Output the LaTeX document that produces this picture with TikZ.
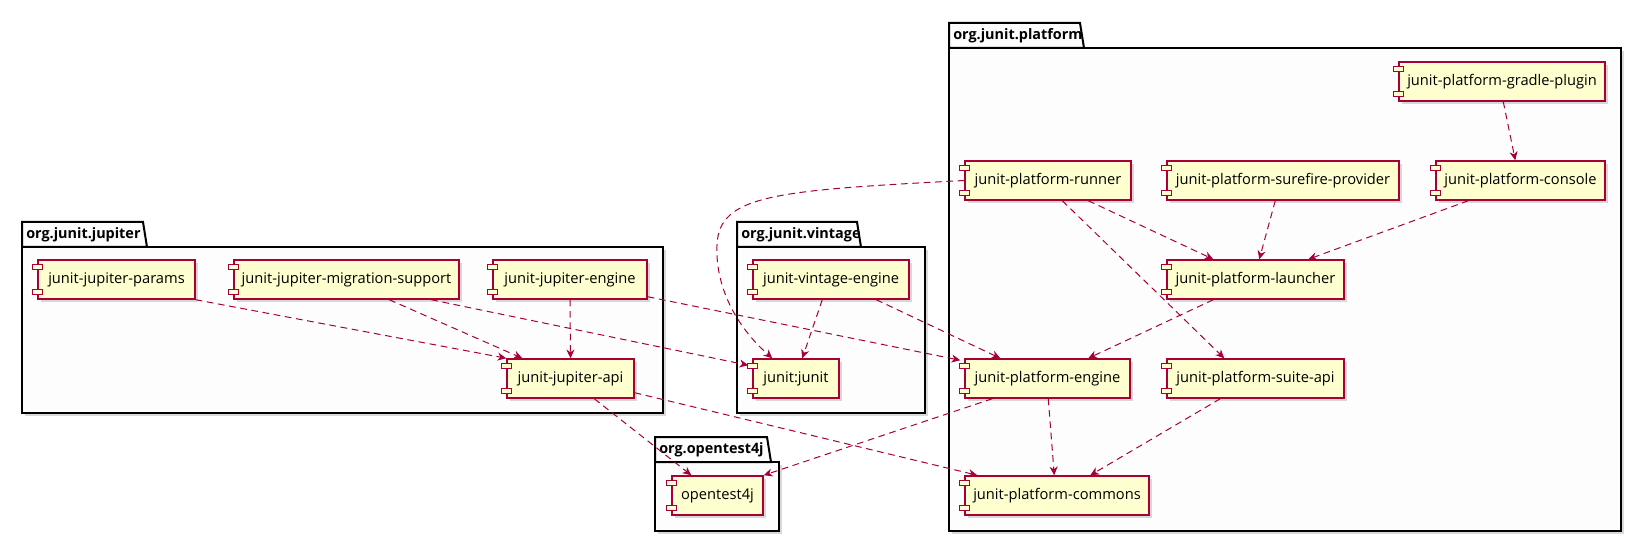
\documentclass[tikz,border=0pt]{standalone}
\usepackage{fontspec}
\setmainfont{Open Sans}
\usepackage{tikz}
\usetikzlibrary{calc,positioning,arrows.meta,shadows}

\definecolor{umlred}{HTML}{A80036}
\definecolor{umlfill}{HTML}{FEFECE}
\definecolor{pkgfill}{HTML}{FDFDFD}

\tikzset{
  comp/.style={draw=umlred, fill=umlfill, line width=1.1pt, minimum height=29.25pt, inner sep=0pt,
    font=\fontsize{11}{13}\selectfont,
    drop shadow={opacity=0.3, shadow xshift=2.5pt, shadow yshift=-2.5pt}},
  comptab/.style={draw=umlred, fill=umlfill, line width=1.1pt},
  pkg/.style={draw=black, fill=pkgfill, line width=1.5pt,
    drop shadow={opacity=0.3, shadow xshift=2.5pt, shadow yshift=-2.5pt}},
  pkgtab/.style={draw=black, fill=pkgfill, line width=1.5pt, line join=miter},
  pkglabel/.style={anchor=west, inner sep=0pt, font=\bfseries\fontsize{10.8}{12}\selectfont},
  dep/.style={draw=umlred, line width=0.75pt, dash pattern=on 5pt off 3.5pt,
    -{Stealth[length=6.5pt,width=6pt,inset=2pt]}}
}

% name, x, y (centre), width, text
\newcommand{\umlcomp}[5]{%
  \node[comp, minimum width=#4*0.75pt] (#1) at (#2,#3) {#5};
  \draw[comptab] ($(#1.north west)+(-5,5)$) rectangle ++(10,5);
  \draw[comptab] ($(#1.south west)+(-5,-10)$) rectangle ++(10,5);
}
% name, x1, y1, x2, y2 (body), tab width, label
\newcommand{\umlpkg}[7]{%
  \draw[pkg] (#2,#3) rectangle (#4,#5);
  \draw[pkgtab] (#2,#3) -- (#2,#3-25) -- (#2+#6,#3-25) -- (#2+#6+4,#3) -- cycle;
  \node[pkglabel] (#1) at (#2+4,#3-12.5) {#7};
}

\begin{document}
\begin{tikzpicture}[x=0.75pt, y=-0.75pt]
  \useasboundingbox (0,0) rectangle (1628,538);

  % packages
  \umlpkg{jupiter}{22}{247}{663}{413}{121}{org.junit.jupiter}
  \umlpkg{vintage}{737}{247}{925}{413}{120}{org.junit.vintage}
  \umlpkg{opentest}{655}{462}{779}{531}{112}{org.opentest4j}
  \umlpkg{platform}{949}{48}{1621}{531}{131}{org.junit.platform}

  % org.junit.jupiter
  \umlcomp{params}{116.5}{279.5}{157}{junit-jupiter-params}
  \umlcomp{migration}{346.5}{279.5}{225}{junit-jupiter-migration-support}
  \umlcomp{jengine}{570}{279.5}{154}{junit-jupiter-engine}
  \umlcomp{japi}{570.5}{378.5}{127}{junit-jupiter-api}

  % org.junit.vintage
  \umlcomp{vengine}{831}{279.5}{156}{junit-vintage-engine}
  \umlcomp{junit}{796}{378.5}{86}{junit:junit}

  % org.opentest4j
  \umlcomp{ot4j}{717.5}{495.5}{91}{opentest4j}

  % org.junit.platform
  \umlcomp{gradle}{1502}{81.5}{206}{junit-platform-gradle-plugin}
  \umlcomp{runner}{1048}{180.5}{166}{junit-platform-runner}
  \umlcomp{surefire}{1283}{180.5}{232}{junit-platform-surefire-provider}
  \umlcomp{console}{1520.5}{180.5}{169}{junit-platform-console}
  \umlcomp{launcher}{1255.5}{279.5}{177}{junit-platform-launcher}
  \umlcomp{pengine}{1047.5}{378.5}{165}{junit-platform-engine}
  \umlcomp{suite}{1255.5}{378.5}{177}{junit-platform-suite-api}
  \umlcomp{commons}{1057}{495.5}{184}{junit-platform-commons}

  % dependencies
  \draw[dep] (params.south east) -- (japi.north west);
  \draw[dep] ($(migration.south west)+(156,0)$) -- ($(japi.north west)+(16,0)$);
  \draw[dep] ($(migration.south west)+(198,0)$) -- ($(junit.north west)+(-4,7)$);
  \draw[dep] (jengine.south) -- (japi.north);
  \draw[dep] ($(jengine.south east)+(0,-3)$) -- ($(pengine.north west)+(-4,2)$);
  \draw[dep] ($(vengine.south west)+(70,0)$) -- ($(junit.north west)+(50,0)$);
  \draw[dep] ($(vengine.south west)+(124,0)$) -- ($(pengine.north west)+(36,0)$);
  \coordinate (bend) at (717,245);
  \draw[dep] (runner.west) .. controls +(-190,10) and +(2,-50) .. (bend)
    .. controls +(-2,45) and +(-33,-29) .. ($(junit.north west)+(20,0)$);
  \draw[dep] ($(runner.south west)+(124,0)$) -- ($(launcher.north west)+(47,0)$);
  \draw[dep] ($(runner.south west)+(98,0)$) -- ($(suite.north west)+(58,0)$);
  \draw[dep] ($(surefire.south west)+(109,0)$) -- ($(launcher.north west)+(93,0)$);
  \draw[dep] ($(console.south west)+(33,0)$) -- ($(launcher.north west)+(142,0)$);
  \draw[dep] ($(gradle.south west)+(105,0)$) -- ($(console.north west)+(80,0)$);
  \draw[dep] ($(launcher.south west)+(47,0)$) -- ($(pengine.north west)+(124,0)$);
  \draw[dep] ($(pengine.south west)+(84,0)$) -- ($(commons.north west)+(90,0)$);
  \draw[dep] ($(pengine.south west)+(28,0)$) -- (ot4j.north east);
  \draw[dep] ($(suite.south west)+(54,0)$) -- ($(commons.north west)+(126,0)$);
  \draw[dep] ($(japi.south west)+(88,0)$) -- ($(ot4j.north west)+(20,0)$);
  \draw[dep] ($(japi.south east)+(0,-6)$) -- ($(commons.north west)+(13,0)$);
\end{tikzpicture}
\end{document}
